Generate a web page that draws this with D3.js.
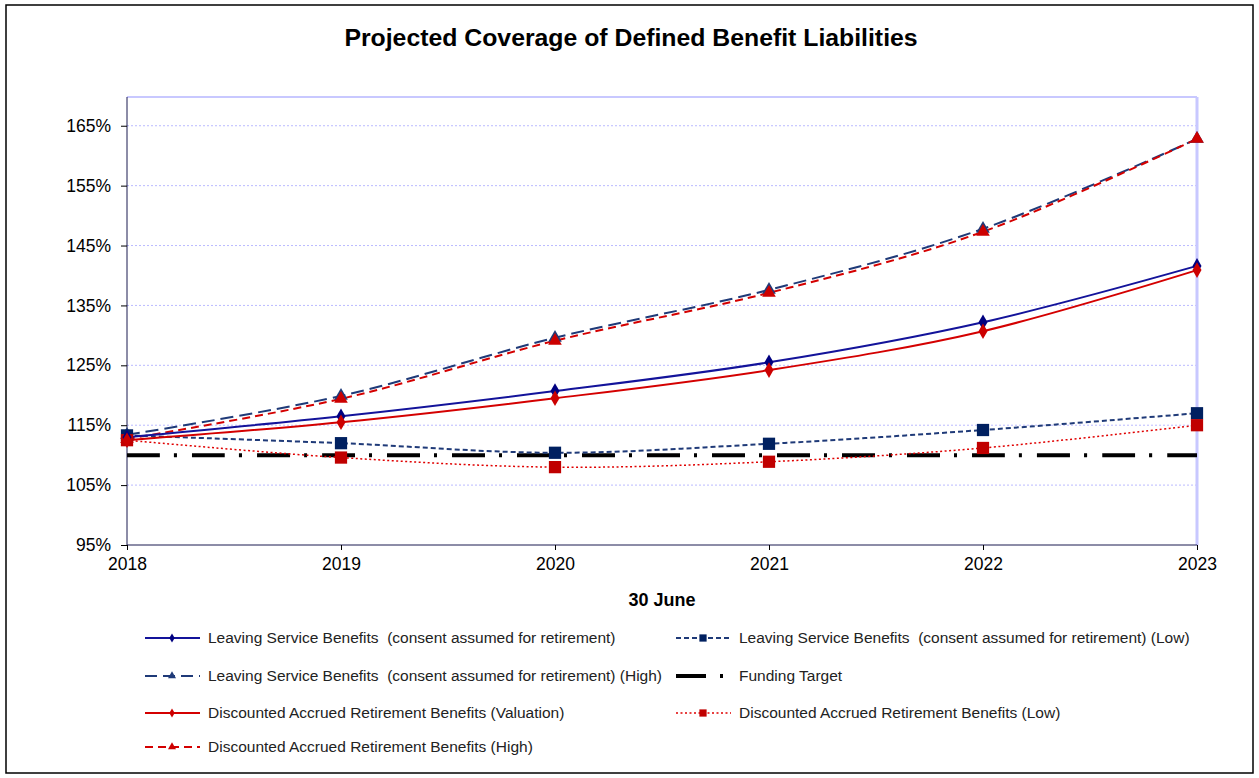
<!DOCTYPE html>
<html>
<head>
<meta charset="utf-8">
<script src="https://cdn.jsdelivr.net/npm/d3@7"></script>
<style>
  body { margin: 0; background: #fff; }
  svg text { font-family: "Liberation Sans", Arial, sans-serif; white-space: pre; }
</style>
</head>
<body>
<svg id="chart" width="1259" height="778"></svg>
<script>
// chart data
const years = [2018, 2019, 2020, 2021, 2022, 2023];
const yTicks = [95, 105, 115, 125, 135, 145, 155, 165];

const lsb      = [113.0, 116.5, 120.7, 125.5, 132.2, 141.6];
const lsbHigh  = [113.4, 119.9, 129.6, 137.6, 147.8, 162.8];
const lsbLow   = [113.3, 112.0, 110.4, 111.9, 114.2, 117.0];
const target   = [110, 110, 110, 110, 110, 110];
const darb     = [112.5, 115.5, 119.5, 124.2, 130.7, 140.9];
const darbLow  = [112.5, 109.6, 108.0, 108.9, 111.2, 115.0];
const darbHigh = [112.7, 119.4, 129.1, 137.1, 147.3, 162.8];

const seriesNames = [
  'Leaving Service Benefits  (consent assumed for retirement)',
  'Leaving Service Benefits  (consent assumed for retirement) (Low)',
  'Leaving Service Benefits  (consent assumed for retirement) (High)',
  'Funding Target',
  'Discounted Accrued Retirement Benefits (Valuation)',
  'Discounted Accrued Retirement Benefits (Low)',
  'Discounted Accrued Retirement Benefits (High)'
];

const series = [
  { name: seriesNames[2], values: lsbHigh, color: '#1f3a78', width: 2, dash: '13,6', marker: 'triangle', msize: 80, mcolor: '#1f3a78' },
  { name: seriesNames[6], values: darbHigh, color: '#d40000', width: 2, dash: '8,5', marker: 'triangle', msize: 80, mcolor: '#cc0000' },
  { name: seriesNames[3], values: target, color: '#000', width: 4, dash: '33,14,3,15', marker: null },
  { name: seriesNames[1], values: lsbLow, color: '#1f3a78', width: 2, dash: '5,3', marker: 'square', msize: 150, mcolor: '#002060' },
  { name: seriesNames[5], values: darbLow, color: '#e00000', width: 1.5, dash: '2,2.5', marker: 'square', msize: 150, mcolor: '#c00000' },
  { name: seriesNames[0], values: lsb, color: '#13139a', width: 2, dash: null, marker: 'diamond', msize: 70, mcolor: '#000080' },
  { name: seriesNames[4], values: darb, color: '#d40000', width: 2, dash: null, marker: 'diamond', msize: 70, mcolor: '#cc0000' }
];

const svg = d3.select('#chart');
const plotLeft = 127, plotRight = 1197, plotTop = 97, plotBottom = 545;

svg.append('rect')
  .attr('x', 6).attr('y', 5).attr('width', 1247).attr('height', 768)
  .attr('fill', '#fff').attr('stroke', '#000').attr('stroke-width', 1.5);

svg.append('text')
  .attr('x', 631).attr('y', 46)
  .attr('text-anchor', 'middle')
  .attr('font-size', 24.8).attr('font-weight', 'bold')
  .text('Projected Coverage of Defined Benefit Liabilities');

const x = d3.scaleLinear().domain([2018, 2023]).range([plotLeft, plotRight]);
const y = d3.scaleLinear().domain([95, 169.8]).range([plotBottom, plotTop]);

// gridlines
svg.append('g')
  .selectAll('line')
  .data(yTicks.slice(1))
  .join('line')
  .attr('x1', plotLeft).attr('x2', plotRight)
  .attr('y1', d => y(d)).attr('y2', d => y(d))
  .attr('stroke', '#babaff').attr('stroke-width', 1).attr('stroke-dasharray', '2,2');

// plot border (top and right)
svg.append('line').attr('x1', plotLeft).attr('x2', plotRight).attr('y1', plotTop).attr('y2', plotTop)
  .attr('stroke', '#c8c8ff').attr('stroke-width', 2);
svg.append('line').attr('x1', plotRight).attr('x2', plotRight).attr('y1', plotTop).attr('y2', plotBottom)
  .attr('stroke', '#c8c8ff').attr('stroke-width', 3);

// axes
const yAxis = d3.axisLeft(y).tickValues(yTicks).tickFormat(d => d + '%').tickSize(6).tickPadding(10);
const gy = svg.append('g').attr('transform', `translate(${plotLeft},0)`).call(yAxis);
gy.select('.domain').attr('d', `M0,${plotTop}V${plotBottom}`).attr('stroke', '#1a1a50');
gy.selectAll('text').attr('font-size', 17.5).attr('fill', '#000');

const xAxis = d3.axisBottom(x).tickValues(years).tickFormat(d3.format('d')).tickSize(5).tickPadding(8);
const gx = svg.append('g').attr('transform', `translate(0,${plotBottom})`).call(xAxis);
gx.select('.domain').attr('d', `M${plotLeft},0H${plotRight}`).attr('stroke', '#1a1a50');
gx.selectAll('text').attr('font-size', 17.5).attr('fill', '#000');

svg.append('text')
  .attr('x', 662).attr('y', 606)
  .attr('text-anchor', 'middle')
  .attr('font-size', 18).attr('font-weight', 'bold')
  .text('30 June');

const line = d3.line()
  .x((d, i) => x(years[i]))
  .y(d => y(d))
  .curve(d3.curveCardinal.tension(0));

const symbolType = { triangle: d3.symbolTriangle, square: d3.symbolSquare, diamond: d3.symbolDiamond };

series.forEach(s => {
  svg.append('path')
    .datum(s.values)
    .attr('fill', 'none')
    .attr('stroke', s.color)
    .attr('stroke-width', s.width)
    .attr('stroke-dasharray', s.dash)
    .attr('d', line);
});

series.forEach(s => {
  if (!s.marker) return;
  svg.append('g')
    .selectAll('path')
    .data(s.values)
    .join('path')
    .attr('transform', (d, i) => `translate(${x(years[i])},${y(d)})`)
    .attr('d', d3.symbol().type(symbolType[s.marker]).size(s.msize))
    .attr('fill', s.mcolor);
});

// legend
const legendItems = [
  { s: series[5], col: 0, row: 0 },
  { s: series[3], col: 1, row: 0 },
  { s: series[0], col: 0, row: 1 },
  { s: series[2], col: 1, row: 1 },
  { s: series[6], col: 0, row: 2 },
  { s: series[4], col: 1, row: 2 },
  { s: series[1], col: 0, row: 3 }
];
const colX = [145, 676];
const rowY = [638, 676, 713, 747];
const lg = svg.append('g');
legendItems.forEach(it => {
  const s = it.s;
  const lx = colX[it.col], ly = rowY[it.row];
  let dash = s.dash;
  if (s.name === 'Funding Target') dash = '30,14,3,20';
  else if (s.dash === '13,6') dash = '12,6';
  lg.append('line')
    .attr('x1', lx).attr('x2', lx + 55).attr('y1', ly).attr('y2', ly)
    .attr('stroke', s.color)
    .attr('stroke-width', s.name === 'Funding Target' ? 4 : Math.min(s.width, 2))
    .attr('stroke-dasharray', dash);
  if (s.marker) {
    lg.append('path')
      .attr('transform', `translate(${lx + 27},${ly})`)
      .attr('d', d3.symbol().type(symbolType[s.marker]).size(s.msize * 0.35))
      .attr('fill', s.mcolor);
  }
  lg.append('text')
    .attr('x', lx + 63).attr('y', ly + 5)
    .attr('font-size', 15.5)
    .attr('fill', '#222')
    .text(s.name);
});
</script>
</body>
</html>
